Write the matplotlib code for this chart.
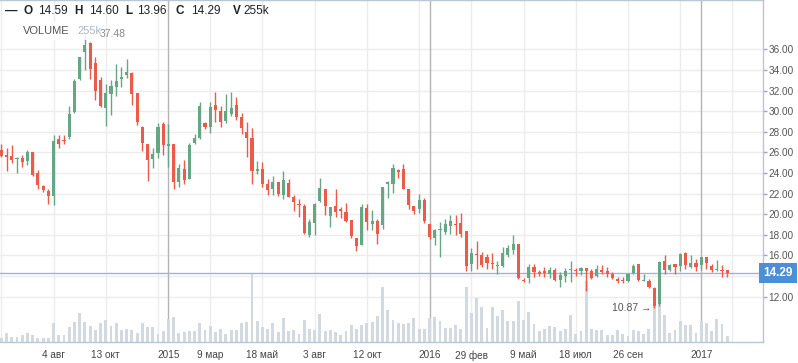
import numpy as np
import matplotlib
matplotlib.use("Agg")
import matplotlib.pyplot as plt
import matplotlib.transforms as mtransforms
from matplotlib.patches import Rectangle

plt.rcParams['font.family'] = ['Liberation Sans', 'DejaVu Sans']

# weekly candles, oldest first
opens = [26.19, 25.71, 25.64, 25.32, 25.45, 25.16, 26.00, 23.96, 22.70, 22.25,
         21.76, 27.30, 27.17, 27.49, 29.89, 33.12, 35.74, 36.60, 34.70, 33.00,
         30.30, 31.63, 32.34, 33.09, 33.51, 33.70, 31.73, 28.46, 26.80, 25.32,
         25.94, 28.72, 26.61, 26.77, 23.12, 24.42, 23.40, 26.90, 27.39, 28.88,
         28.50, 30.58, 30.02, 29.04, 29.72, 30.58, 29.42, 28.00, 27.42, 24.17,
         24.36, 22.91, 22.43, 23.10, 21.86, 23.04, 21.64, 21.01, 20.78, 18.03,
         19.18, 21.27, 22.43, 19.82, 20.78, 20.55, 20.23, 19.42, 17.67, 16.99,
         20.65, 19.07, 19.36, 18.93, 22.94, 22.90, 24.25, 24.35, 22.41, 20.76,
         20.52, 21.42, 19.03, 17.72, 18.43, 18.27, 18.85, 19.01, 19.14, 18.33,
         15.19, 16.16, 16.00, 15.90, 15.29, 14.96, 14.96, 16.00, 16.58, 17.07,
         13.67, 13.80, 14.87, 14.38, 14.48, 14.22, 14.61, 13.64, 14.00, 14.61,
         14.61, 14.48, 14.77, 14.45, 13.99, 14.64, 14.45, 14.16, 13.74, 13.57,
         13.51, 14.32, 15.13, 13.57, 13.57, 12.86, 11.31, 15.45, 14.61, 15.13,
         14.96, 16.23, 14.87, 15.29, 15.09, 15.84, 14.96, 14.61, 14.61, 14.59]
highs = [26.78, 26.45, 26.68, 25.58, 25.77, 26.19, 26.02, 24.25, 22.80, 22.47,
         27.65, 27.72, 27.72, 30.47, 33.15, 35.30, 37.48, 36.75, 35.30, 33.30,
         32.60, 33.00, 34.60, 34.28, 35.10, 33.75, 31.80, 28.53, 26.85, 26.40,
         28.85, 28.90, 28.72, 26.80, 24.85, 25.22, 26.94, 27.80, 30.92, 28.90,
         30.90, 31.88, 30.50, 31.63, 31.88, 31.40, 29.80, 28.92, 28.40, 25.15,
         25.02, 23.46, 23.67, 23.16, 24.18, 23.40, 21.85, 21.49, 20.95, 19.50,
         21.10, 23.49, 22.45, 20.72, 22.43, 20.72, 21.07, 19.45, 17.70, 20.99,
         21.00, 20.42, 19.58, 22.65, 23.22, 24.83, 24.41, 24.83, 22.47, 20.78,
         21.97, 21.60, 19.10, 18.59, 19.24, 19.56, 19.88, 19.88, 20.14, 18.35,
         16.74, 17.39, 16.32, 16.16, 16.23, 15.45, 16.81, 17.03, 17.94, 17.09,
         13.83, 15.13, 15.13, 14.64, 14.93, 14.87, 14.77, 14.38, 14.77, 15.51,
         14.77, 14.93, 14.79, 14.71, 15.03, 15.09, 14.93, 14.38, 13.90, 13.96,
         14.32, 15.13, 15.19, 14.22, 13.74, 12.99, 15.45, 16.00, 15.19, 15.15,
         16.23, 16.32, 16.00, 15.68, 15.90, 15.86, 15.13, 15.61, 15.03, 14.60]
lows = [25.52, 24.16, 24.97, 24.00, 24.58, 24.74, 23.70, 22.47, 22.20, 20.95,
        20.85, 26.42, 26.81, 27.33, 29.79, 33.00, 33.96, 33.15, 31.05, 30.40,
        28.55, 29.63, 31.47, 32.34, 33.25, 30.60, 28.62, 26.10, 23.20, 24.48,
        25.50, 25.70, 24.57, 22.44, 22.60, 22.89, 23.38, 26.80, 27.33, 28.23,
        27.90, 28.96, 28.47, 28.88, 29.52, 29.14, 27.78, 25.60, 22.91, 23.88,
        22.65, 21.85, 21.85, 21.73, 21.49, 21.64, 20.31, 19.74, 18.08, 17.80,
        18.00, 21.22, 19.90, 18.77, 19.70, 19.65, 19.26, 17.74, 16.42, 16.99,
        18.50, 18.45, 17.15, 18.53, 21.59, 22.05, 23.54, 22.41, 20.53, 19.98,
        20.10, 19.20, 17.57, 16.97, 15.90, 18.04, 18.10, 17.94, 17.78, 14.48,
        14.48, 14.71, 14.93, 14.71, 14.71, 14.16, 14.93, 15.90, 16.16, 13.73,
        13.41, 13.31, 13.90, 13.99, 13.96, 13.80, 13.48, 12.93, 13.41, 13.41,
        13.99, 14.13, 12.54, 13.74, 13.90, 14.22, 13.96, 13.74, 13.31, 13.31,
        13.41, 14.22, 13.57, 13.51, 12.86, 10.87, 11.15, 14.22, 14.54, 14.22,
        14.54, 14.71, 14.80, 14.54, 14.61, 14.71, 14.38, 14.48, 13.96, 13.96]
closes = [25.64, 25.52, 25.22, 25.40, 25.06, 26.07, 23.77, 22.83, 22.34, 21.76,
          27.07, 26.81, 27.07, 29.69, 32.90, 35.25, 36.45, 34.10, 31.95, 30.50,
          31.80, 32.42, 32.92, 33.31, 33.77, 31.65, 28.94, 26.87, 25.22, 25.87,
          28.50, 26.68, 26.84, 23.12, 24.50, 23.30, 26.72, 27.36, 30.46, 28.46,
          30.45, 30.10, 28.97, 30.00, 30.32, 29.42, 28.38, 27.42, 24.20, 24.37,
          22.91, 22.33, 23.12, 21.94, 23.30, 21.68, 21.20, 20.92, 18.16, 19.26,
          20.97, 22.52, 20.81, 20.71, 20.20, 20.30, 19.32, 17.86, 16.91, 20.67,
          19.26, 19.36, 18.12, 22.65, 23.14, 24.48, 24.09, 22.47, 20.85, 20.27,
          21.43, 19.35, 17.80, 18.43, 18.50, 19.01, 19.30, 18.91, 18.10, 14.96,
          16.23, 16.07, 15.03, 15.26, 15.19, 15.00, 16.23, 16.71, 17.07, 13.80,
          13.57, 14.87, 14.38, 14.22, 14.29, 14.61, 13.67, 14.06, 14.54, 14.67,
          14.51, 14.80, 14.48, 13.83, 14.71, 14.38, 14.19, 13.80, 13.54, 13.51,
          14.22, 14.96, 13.64, 13.64, 12.93, 11.08, 15.35, 14.61, 15.09, 14.87,
          16.10, 15.03, 15.26, 14.87, 15.84, 15.26, 14.64, 14.71, 14.54, 14.29]
volumes_k = [180, 405, 225, 225, 300, 405, 300, 180, 180, 180,
             825, 300, 300, 675, 900, 1305, 900, 705, 555, 855,
             975, 705, 825, 525, 600, 525, 405, 855, 675, 675,
             375, 480, 1005, 1125, 405, 450, 480, 480, 825, 525,
             705, 450, 600, 375, 525, 555, 825, 900, 3075, 945,
             675, 600, 825, 450, 1080, 480, 555, 375, 975, 600,
             555, 1230, 480, 525, 450, 300, 480, 750, 600, 750,
             825, 900, 1155, 2445, 1425, 975, 825, 795, 855, 1050,
             570, 570, 1050, 1095, 930, 645, 645, 750, 600, 2430,
             1305, 1980, 1545, 645, 1575, 1155, 1425, 945, 945, 1830,
             975, 1350, 795, 480, 600, 705, 675, 480, 600, 1200,
             345, 480, 2700, 600, 525, 525, 300, 300, 525, 345,
             255, 525, 480, 375, 600, 1725, 1800, 1200, 420, 525,
             930, 750, 750, 405, 930, 855, 480, 1020, 795, 255]

tick_idx = [10, 20, 32, 40, 50, 60, 70, 82, 90, 100, 110, 120, 134]
tick_labels = ['4 авг', '13 окт', '2015', '9 мар', '18 май', '3 авг', '12 окт',
               '2016', '29 фев', '9 май', '18 июл', '26 сен', '2017']
year_idx = [32, 82, 134]
last_price = 14.29

GREEN = '#67a685'
RED = '#ec5b4a'
W, H = 798, 363

fig = plt.figure(figsize=(W / 100, H / 100), dpi=100)
ax = fig.add_axes([0, 21 / H, 763 / W, 342 / H])
ax.set_xlim(-0.25, 145.84)
ax.set_ylim(7.61, 40.78)

x = np.arange(len(closes))
o = np.array(opens); c = np.array(closes)
hi = np.array(highs); lo = np.array(lows)
vol = np.array(volumes_k, dtype=float)

# grid
for gx in range(0, 146, 10):
    ax.axvline(gx, color='#ececec', lw=1, zorder=0)
for gy in range(12, 37, 2):
    ax.axhline(gy, color='#ececec', lw=1, zorder=0)
for yx in year_idx:
    ax.axvline(yx, color='#b4b4b4', lw=1, zorder=0.5)

# volume in the lower band
vtrans = mtransforms.blended_transform_factory(ax.transData, ax.transAxes)
vmax_axes = vol.max() * 342 / 69
ax.bar(x, vol / vmax_axes, width=0.55, color='#d2d9e0', transform=vtrans, zorder=1)

# candles
up = c >= o
cols = np.where(up, GREEN, RED)
ax.vlines(x, lo, hi, colors=cols, lw=1, zorder=2)
body = np.maximum(np.abs(c - o), 0.1)
ax.bar(x, body, bottom=np.minimum(o, c), width=0.6, color=cols, zorder=3)

# last price line + label
ax.axhline(last_price, color='#9bb6de', lw=1, zorder=1.5)
ax.text(1.0, last_price, f'{last_price:.2f}', transform=mtransforms.blended_transform_factory(ax.transAxes, ax.transData),
        ha='left', va='center', color='white', fontsize=8.5, fontweight='bold',
        bbox=dict(boxstyle='square,pad=0.35', fc='#4a8fd8', ec='none'), clip_on=False, zorder=10)

# min / max annotations (the arrow of the max label sits under the legend box)
imax = int(np.argmax(hi)); imin = int(np.argmin(lo))
ax.text(imax + 2.9, hi[imax], f'{hi[imax]:.2f}', ha='left', va='center',
        fontsize=7.5, color='#8a8a8a', zorder=4)
ax.text(imin - 0.6, lo[imin], f'{lo[imin]:.2f} \u2192', ha='right', va='center',
        fontsize=7.5, color='#555555', zorder=4)

# axes styling
ax.yaxis.tick_right()
yt = [v for v in range(12, 37, 2) if v != 14]
ax.set_yticks(yt)
ax.set_yticklabels([f'{v:.2f}' for v in yt])
ax.tick_params(axis='y', length=3, width=1, color='#9aa8b5', labelsize=7.2,
               labelcolor='#555555', pad=1)
ax.set_xticks(tick_idx)
ax.set_xticklabels(tick_labels)
ax.tick_params(axis='x', length=0, labelsize=7.2, labelcolor='#444444', pad=6)
ax.spines['left'].set_visible(False)
for s in ['right', 'top', 'bottom']:
    ax.spines[s].set_color('#b9c6d3')
    ax.spines[s].set_linewidth(1)

# legend box for volume
ax.add_patch(Rectangle((18 / 763, 1 - 40 / 342), 81 / 763, 18 / 342, transform=ax.transAxes,
                       fc='white', ec='none', alpha=0.85, zorder=5))
fig.text(23 / W, 1 - 31 / H, 'VOLUME', fontsize=8, color='#555555', va='center', zorder=6)
fig.text(77 / W, 1 - 31 / H, f'{volumes_k[-1]}k', fontsize=8, color='#a9b8c8', va='center', zorder=6)

# header row
hy = 1 - 11 / H
fig.text(5 / W, hy, '\u2014', fontsize=9, fontweight='bold', color='#222222', va='center')
parts = [(23, 'O', True), (38, f'{opens[-1]:.2f}', False),
         (74, 'H', True), (89, f'{highs[-1]:.2f}', False),
         (125.5, 'L', True), (137, f'{lows[-1]:.2f}', False),
         (175.5, 'C', True), (191, f'{closes[-1]:.2f}', False),
         (233, 'V', True), (243, f'{volumes_k[-1]}k', False)]
for px, s, bold in parts:
    fig.text(px / W, hy, s, fontsize=8.5, color='#222222', va='center',
             fontweight='bold' if bold else 'normal')

fig.savefig('out.png', dpi=100)
